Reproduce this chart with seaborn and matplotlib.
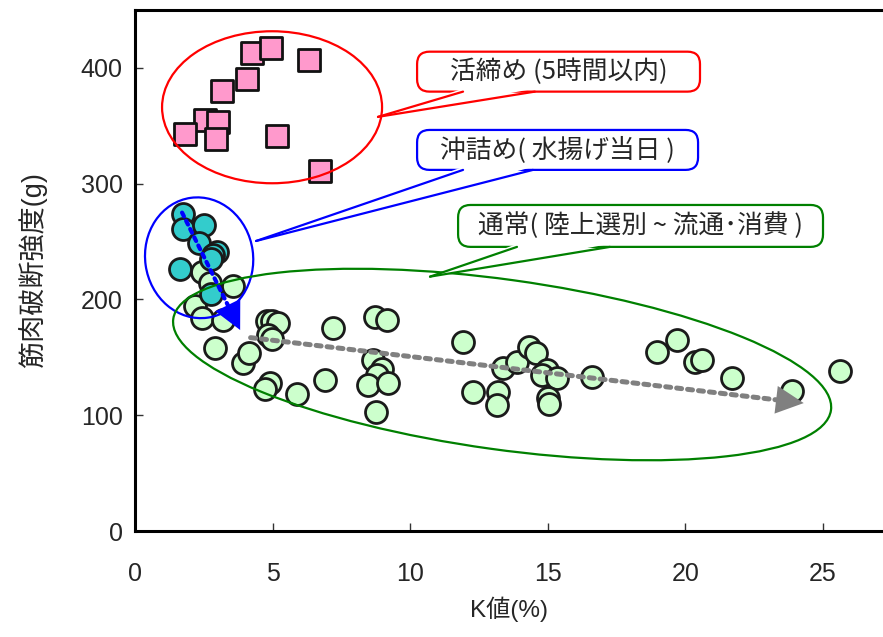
import numpy as np
import pandas as pd
import matplotlib
matplotlib.use("Agg")
import matplotlib.pyplot as plt
import seaborn as sns
from matplotlib.patches import Ellipse, FancyBboxPatch, Polygon
from matplotlib.transforms import Affine2D

# 活締め (5時間以内)
ikejime_k = [4.24, 4.93, 6.33, 4.08, 3.17, 2.54, 3.03, 1.83, 2.95, 5.15, 6.71]
ikejime_str = [413, 417, 407, 390, 380, 355, 353, 343, 339, 341, 311]

# 沖詰め (水揚げ当日)
okizume_k = [1.76, 1.73, 2.51, 2.33, 2.97, 2.85, 2.75, 1.64, 2.75]
okizume_str = [274, 261, 264, 249, 241, 238, 235, 226, 205]

# 通常 (陸上選別~流通・消費)
tsujo_k = [2.42, 2.73, 3.57, 2.18, 2.42, 3.19, 2.90, 3.94, 4.15, 4.80, 4.98, 5.18,
           4.85, 4.97, 7.20, 8.72, 9.17, 4.90, 4.72, 5.87, 6.92, 8.66, 8.96, 8.78,
           8.48, 9.18, 8.75, 11.93, 12.29, 13.38, 13.20, 13.14, 13.87, 14.33, 14.56,
           14.96, 14.78, 15.32, 15.02, 15.05, 16.59, 18.96, 19.71, 20.35, 20.59,
           21.68, 23.86, 25.62]
tsujo_str = [224, 214, 212, 194, 184, 182, 158, 145, 154, 181, 181, 180,
             169, 166, 175, 185, 182, 128, 123, 118, 130, 148, 140, 135,
             126, 128, 103, 163, 120, 141, 120, 109, 146, 159, 154,
             139, 135, 132, 115, 110, 133, 155, 165, 146, 148,
             132, 121, 138]

x_ticks = [0, 5, 10, 15, 20, 25]
y_ticks = [0, 100, 200, 300, 400]

sns.set_style("ticks")
plt.rcParams['font.family'] = ['Liberation Sans', 'Noto Sans CJK JP']
jp = ['Noto Sans CJK JP', 'DejaVu Sans']

fig = plt.figure(figsize=(8.83, 6.37), dpi=100)
ax = fig.add_axes([0.1529, 0.1664, 0.8471, 0.8179])
xmax, ymax = 27.18, 450
ax.set_xlim(0, xmax)
ax.set_ylim(0, ymax)

# pixel per data unit (for shapes drawn in screen proportions)
sx = 883 * 0.8471 / xmax
sy = 637 * 0.8179 / ymax

sns.scatterplot(x=tsujo_k, y=tsujo_str, ax=ax, marker='o', s=250, color='#CCFFCC',
                edgecolor='#1a1a1a', linewidth=2, zorder=2, legend=False)
sns.scatterplot(x=okizume_k, y=okizume_str, ax=ax, marker='o', s=250, color='#33CCCC',
                edgecolor='#1a1a1a', linewidth=2, zorder=3, legend=False)
sns.scatterplot(x=ikejime_k, y=ikejime_str, ax=ax, marker='s', s=240, color='#FF99CC',
                edgecolor='#111111', linewidth=2, zorder=3, legend=False)


def px_ellipse(cx, cy, w, h, ang, color):
    tr = Affine2D().scale(1 / sx, 1 / sy).translate(cx, cy) + ax.transData
    e = Ellipse((0, 0), w, h, angle=ang, fill=False, edgecolor=color, lw=1.6,
                transform=tr, zorder=4)
    ax.add_patch(e)


px_ellipse(4.98, 366, 220, 152, 0, '#FF0000')
px_ellipse(2.33, 236, 108, 121, 8, '#0000FF')
px_ellipse(13.34, 143.8, 664, 170, -7.9, '#008000')


def dotted_arrow(start, tip, color, lw, hl, hw):
    start = np.array(start, float)
    tip = np.array(tip, float)
    # shaft stops under the head
    d = np.array([(tip[0] - start[0]) * sx, (tip[1] - start[1]) * sy])
    frac = 1 - (hl * 1.389 * 0.8) / np.hypot(*d)
    mid = start + frac * (tip - start)
    ax.annotate('', xy=mid, xytext=start,
                arrowprops=dict(arrowstyle='-', color=color, lw=lw, linestyle=(0, (1, 1.2)),
                                shrinkA=0, shrinkB=0), zorder=5)
    back = start + 0.9 * (tip - start)
    ax.annotate('', xy=tip, xytext=back,
                arrowprops=dict(arrowstyle='-|>,head_length=%g,head_width=%g' % (hl, hw),
                                mutation_scale=1, color=color, lw=0, shrinkA=0, shrinkB=0),
                zorder=5)


dotted_arrow((4.2, 167), (24.3, 110.5), '#808080', 3.6, 20, 10)
dotted_arrow((1.71, 275), (3.82, 173.6), '#0000FF', 3.0, 20, 10)


def callout(text, bx, by, base, tip, color):
    x0, x1 = bx
    y0, y1 = by
    box = FancyBboxPatch((x0, y0), x1 - x0, y1 - y0,
                         boxstyle='round,pad=0,rounding_size=0.45',
                         mutation_aspect=sx / sy, fc='white', ec=color, lw=1.6, zorder=6)
    ax.add_patch(box)
    eps = 3 / sy
    ax.add_patch(Polygon([(base[0], y0 + eps), tip, (base[1], y0 + eps)], closed=True,
                         fc='white', ec='none', zorder=7))
    for bxp in base:
        ax.plot([bxp, tip[0]], [y0, tip[1]], color=color, lw=1.6, zorder=7,
                solid_capstyle='round')
    ax.text((x0 + x1) / 2, (y0 + y1) / 2, text, ha='center', va='center',
            fontsize=18.5, family=jp, zorder=8)


callout('活締め (5時間以内)', (10.25, 20.53), (379.5, 414), (11.92, 14.53), (8.83, 357.7), '#FF0000')
callout('沖詰め( 水揚げ当日 )', (10.25, 20.46), (311.9, 346.4), (11.92, 14.46), (4.40, 250.5), '#0000FF')
callout('通常( 陸上選別 ~ 流通･消費 )', (11.74, 25.0), (245.4, 281.6), (13.88, 17.26), (10.72, 219.7), '#008000')

ax.set_xticks(x_ticks)
ax.set_yticks(y_ticks)
ax.tick_params(direction='in', length=6, width=1, labelsize=18, color='#333333')
ax.tick_params(axis='x', pad=22)
ax.tick_params(axis='y', pad=9)
for s in ['left', 'bottom', 'top']:
    ax.spines[s].set_linewidth(2.2)
    ax.spines[s].set_color('black')
ax.spines['right'].set_visible(False)

ax.set_xlabel('K値(%)', fontsize=17.5, labelpad=8)
ax.set_ylabel('筋肉破断強度(g)', fontsize=19.5, labelpad=24)

fig.savefig('out.png', dpi=100)
